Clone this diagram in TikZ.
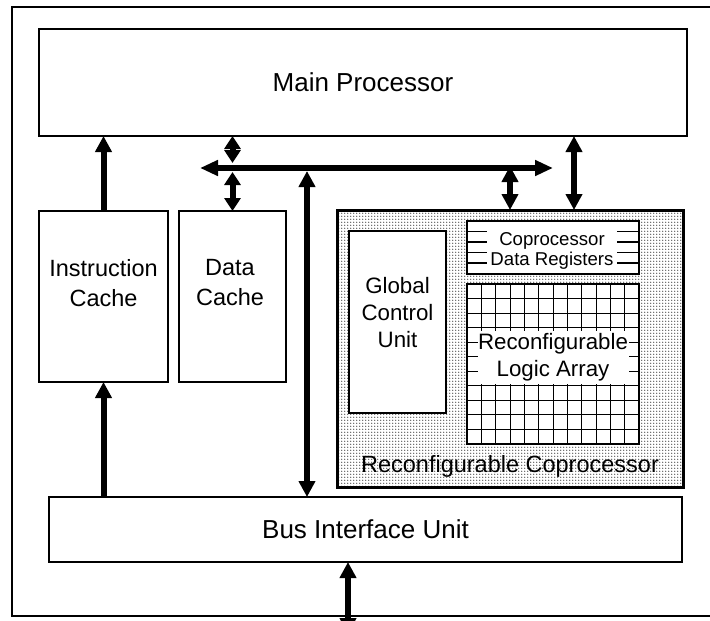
\documentclass[tikz,border=0pt]{standalone}
\usepackage{fontspec}
\setmainfont{Liberation Sans}
\usetikzlibrary{arrows.meta,patterns,calc}

% stipple used for the coprocessor background
\pgfdeclarepatternformonly{cpdots}{\pgfqpoint{-1pt}{-1pt}}{\pgfqpoint{2pt}{2pt}}{\pgfqpoint{3pt}{3pt}}{%
  \pgfpathcircle{\pgfqpoint{0pt}{0pt}}{0.75pt}\pgfusepath{fill}}

\begin{document}
\begin{tikzpicture}[x=1pt,y=-1pt,
  box/.style={draw=black, line width=1.3pt, fill=white, inner sep=0pt, outer sep=0pt},
  lbl/.style={align=center, inner sep=0pt, font=\fontsize{23.5}{30}\selectfont},
  biglbl/.style={font=\fontsize{26}{30}\selectfont},
  link/.style={line width=6pt, -{Triangle[length=16pt,width=16pt]}},
  dlink/.style={line width=6pt, {Triangle[length=16pt,width=16pt]}-{Triangle[length=16pt,width=16pt]}},
  slink/.style={line width=6pt, {Triangle[length=13pt,width=16pt]}-{Triangle[length=13pt,width=16pt]}},
  gridline/.style={line width=1.2pt},
]
\useasboundingbox (0,0) rectangle (710,621);
\clip (0,0) rectangle (710,621);
\fill[white] (0,0) rectangle (710,621);

% outer frame (runs past the right edge)
\draw[line width=2.5pt] (12,7) rectangle (740,616);

% main blocks
\node[box, minimum width=648pt, minimum height=107pt, biglbl] (mp) at (363,82.5) {Main Processor};
\node[box, minimum width=129pt, minimum height=171pt] (ic) at (103.5,296.5) {};
\node[lbl] (ictext) at (103.5,283) {Instruction\\Cache};
\node[box, minimum width=107pt, minimum height=171pt] (dc) at (232.5,296.5) {};
\node[lbl] (dctext) at (230,283) {Data\\Cache};
\node[box, minimum width=633pt, minimum height=65pt, biglbl] (biu) at (365.5,529.5) {Bus Interface Unit};

% reconfigurable coprocessor
\node[draw=black, line width=3pt, minimum width=346pt, minimum height=277pt,
      pattern=cpdots, pattern color=black!75, inner sep=0pt, outer sep=0pt] (cp) at (510,348.5) {};
\node[inner sep=0pt, font=\fontsize{23.5}{28}\selectfont] (cptext) at (510,466) {Reconfigurable Coprocessor};

\node[box, minimum width=97pt, minimum height=182pt] (gcu) at (397.5,322) {};
\node[align=center, inner sep=0pt, font=\fontsize{22.3}{27}\selectfont] (gcutext) at (397.5,313) {Global\\Control\\Unit};

% coprocessor data registers
\node[box, minimum width=172pt, minimum height=53pt] (reg) at (553,247.5) {};
\foreach \y in {231.5,242,252.5,263}
  \draw[gridline] (reg.west |- 0,\y) -- (reg.east |- 0,\y);
\node[fill=white, inner sep=0pt, minimum width=130pt, minimum height=45pt] (regcover) at (552,247.5) {};
\node[align=center, inner sep=0pt, font=\fontsize{18.6}{20}\selectfont] (regtext) at (552,251) {Coprocessor\\Data Registers};

% reconfigurable logic array
\node[box, minimum width=172pt, minimum height=160pt] (la) at (553,364) {};
\foreach \x in {481.5,495.5,510.5,524.5,538.5,553.5,567.5,581.5,596.5,610.5,624.5}
  \draw[gridline] (\x,284) -- (\x,444);
\foreach \y in {298.5,313.5,327.5,342.5,356.5,371.5,385.5,400.5,414.5,429.5}
  \draw[gridline] (467,\y) -- (639,\y);
\node[fill=white, align=center, inner sep=0pt, minimum width=151pt, minimum height=53pt,
      font=\fontsize{22.3}{27}\selectfont] (latext) at (553,357) {Reconfigurable\\Logic Array};
\draw[line width=1.3pt] (la.north west) rectangle (la.south east);

% system bus
\coordinate (busL) at (200,168);
\coordinate (busR) at (553,168);
\coordinate (tapB) at (307,168);
\coordinate (tapC) at (510,168);
\coordinate (tapM) at (574,168);
\coordinate (ext) at (348,634);
\draw[line width=6pt, {Triangle[length=18pt,width=15pt]}-{Triangle[length=18pt,width=15pt]}] (busL) -- (busR);

% connections
\draw[link] (ic.north) -- (mp.south -| ic.north);
\draw[link] (biu.north -| ic.south) -- (ic.south);
\draw[slink] (mp.south -| dc.north) -- ($(busL -| dc.north)+(0,-5)$);
\draw[slink] ($(busL -| dc.north)+(0,4)$) -- (dc.north);
\draw[dlink] ($(tapB)+(0,3)$) -- (biu.north -| tapB);
\draw[dlink] ($(tapC)+(0,-2)$) -- (cp.north -| tapC);
\draw[dlink] (mp.south -| tapM) -- (cp.north -| tapM);
\draw[dlink] (biu.south -| ext) -- (ext);
\end{tikzpicture}
\end{document}
